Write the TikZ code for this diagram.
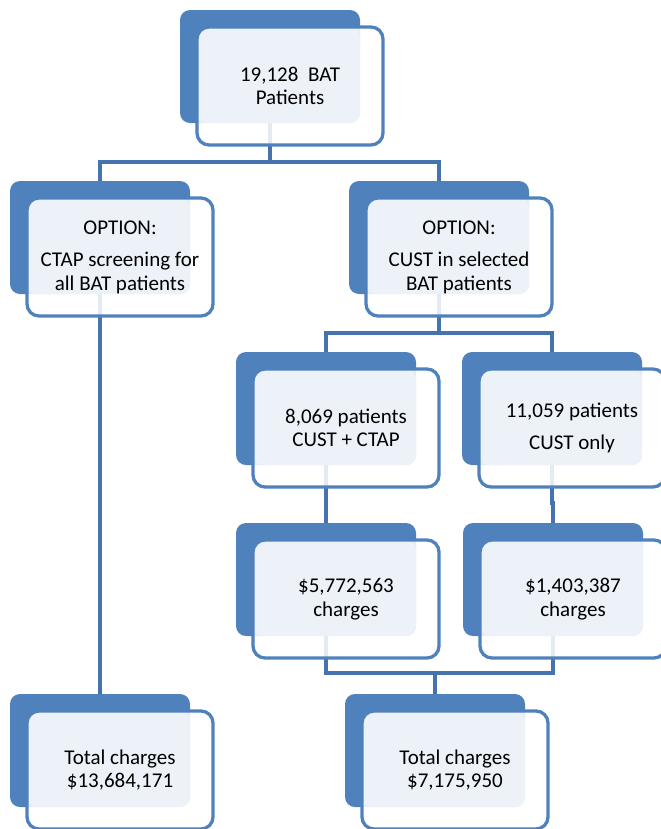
\documentclass[tikz,border=0pt]{standalone}
\usepackage{fontspec}
\setmainfont{Carlito}
\definecolor{dblue}{HTML}{4F81BD}
\definecolor{lfill}{HTML}{EDF2F9}
\definecolor{cblue}{HTML}{4573AD}
\pgfdeclarelayer{bg}
\pgfsetlayers{bg,main}
\tikzset{
  backbox/.style={fill=dblue, rounded corners=10bp, minimum width=180bp, minimum height=113bp,
    inner sep=0pt, outer sep=0pt, anchor=north west},
  frontbox/.style={rounded corners=12bp, minimum width=186bp, minimum height=118bp,
    inner sep=0pt, outer sep=0pt, anchor=north west, align=center,
    font=\fontsize{21bp}{23.5bp}\selectfont},
  conn/.style={draw=cblue, line width=3.5bp},
}
\newcommand{\twobox}[4]{%
  \node[backbox] (#1b) at (#2,#3) {};
  \node[frontbox] (#1f) at (#2+17,#3+17) {};
  \fill[white, opacity=0.85, rounded corners=12bp] (#1f.north west) rectangle (#1f.south east);
  \fill[lfill, rounded corners=10bp] (#1f.north west) rectangle (#1b.south east);
  \draw[dblue, line width=3.3bp, rounded corners=12bp] (#1f.north west) rectangle (#1f.south east);
  \node[frontbox, anchor=center] (#1t) at (#1f.center) {#4};
}
\begin{document}
\begin{tikzpicture}[x=1bp, y=-1bp]
\useasboundingbox (0,0) rectangle (661,829);
\twobox{top}{180}{10}{19,128\ \ BAT\\Patients}
\twobox{optL}{10}{181}{OPTION:\\[9bp]CTAP screening for\\all BAT patients}
\twobox{optR}{349}{181}{OPTION:\\[9bp]CUST in selected\\BAT patients}
\twobox{A}{236}{352}{8,069 patients\\CUST + CTAP}
\twobox{B}{462}{352}{11,059 patients\\[9bp]CUST only}
\twobox{C}{236}{523}{\$5,772,563\\charges}
\twobox{D}{463}{523}{\$1,403,387\\charges}
\twobox{totL}{10}{694}{Total charges\\\$13,684,171}
\twobox{totR}{345}{694}{Total charges\\\$7,175,950}
\begin{pgfonlayer}{bg}
  \draw[conn] (topb.south) -- ++(0,39) coordinate (h1);
  \draw[conn] (optLb.north) |- (h1) -| (optRb.north);
  \draw[conn] (optRb.south) -- ++(0,39) coordinate (h2);
  \draw[conn] (Ab.north) |- (h2) -| (Bb.north);
  \draw[conn] (Ab.south) -- (Cb.north);
  \draw[conn] (Bb.south) -- ++(0,38) -| (Db.north);
  \draw[conn] (totRb.north) -- ++(0,-21) coordinate (h3);
  \draw[conn] (Cb.south) |- (h3) -| (Db.south);
  \draw[conn] (optLb.south) -- (totLb.north);
\end{pgfonlayer}
\end{tikzpicture}
\end{document}
